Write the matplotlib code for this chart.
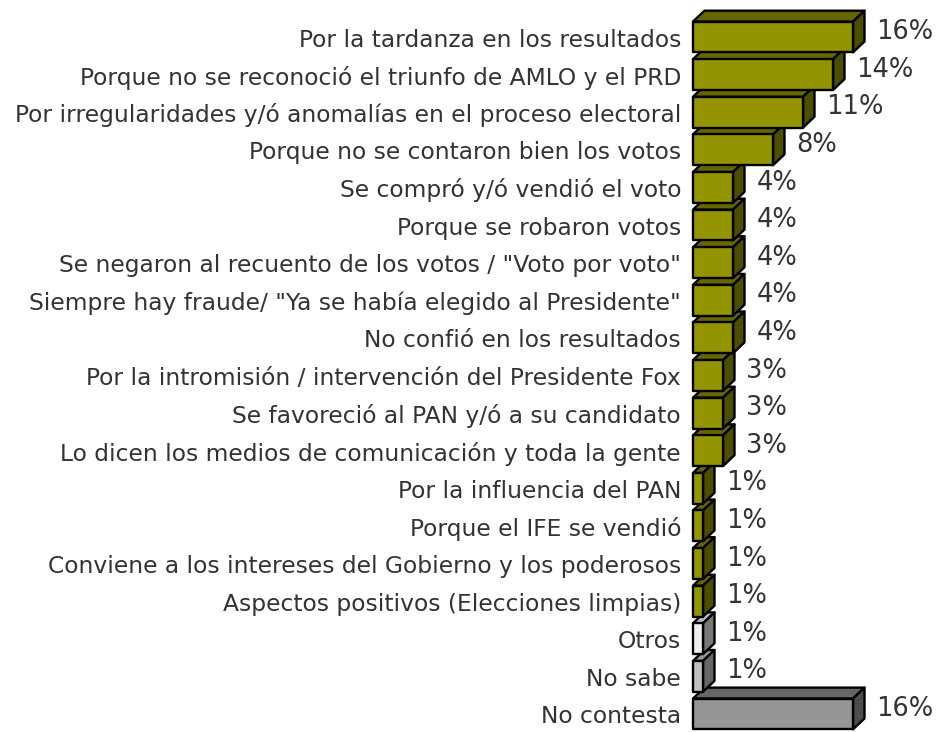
import matplotlib
matplotlib.use("Agg")
import matplotlib.pyplot as plt
from matplotlib.patches import Polygon

categories = [
    "Por la tardanza en los resultados",
    "Porque no se reconoció el triunfo de AMLO y el PRD",
    "Por irregularidades y/ó anomalías en el proceso electoral",
    "Porque no se contaron bien los votos",
    "Se compró y/ó vendió el voto",
    "Porque se robaron votos",
    "Se negaron al recuento de los votos / \"Voto por voto\"",
    "Siempre hay fraude/ \"Ya se había elegido al Presidente\"",
    "No confió en los resultados",
    "Por la intromisión / intervención del Presidente Fox",
    "Se favoreció al PAN y/ó a su candidato",
    "Lo dicen los medios de comunicación y toda la gente",
    "Por la influencia del PAN",
    "Porque el IFE se vendió",
    "Conviene a los intereses del Gobierno y los poderosos",
    "Aspectos positivos (Elecciones limpias)",
    "Otros",
    "No sabe",
    "No contesta",
]
values = [16, 14, 11, 8, 4, 4, 4, 4, 4, 3, 3, 3, 1, 1, 1, 1, 1, 1, 16]

olive = ("#949400", "#666600", "#4d4d00")
colors = [olive] * 16 + [("#eeeeee", "#bbbbbb", "#777777"),
                         ("#c0c0c0", "#999999", "#666666"),
                         ("#969696", "#666666", "#4d4d4d")]

fig = plt.figure(figsize=(9.49, 7.32), dpi=100)
# axes spans from the bar base (x=693px) to the right edge
ax = fig.add_axes([693 / 949, 0, 1 - 693 / 949, 1])
ax.set_xlim(0, 25.6)
ax.set_ylim(18.48, -0.984)
ax.axis("off")

h = 0.41     # half height of front face (rows)
dx = 1.15    # depth in % units
dy = 0.29    # depth in rows

for i in range(len(values) - 1, -1, -1):
    v = values[i]
    front, top, side = colors[i]
    y0, y1 = i - h, i + h
    kw = dict(edgecolor="black", linewidth=1.7, joinstyle="round", clip_on=False)
    ax.add_patch(Polygon([(0, y0), (dx, y0 - dy), (v + dx, y0 - dy), (v, y0)],
                         facecolor=top, **kw))
    ax.add_patch(Polygon([(v, y0), (v + dx, y0 - dy), (v + dx, y1 - dy), (v, y1)],
                         facecolor=side, **kw))
    ax.add_patch(Polygon([(0, y0), (v, y0), (v, y1), (0, y1)],
                         facecolor=front, **kw))
    ax.text(v + dx + 1.2, i - 0.13, f"{v}%", ha="left", va="center",
            fontsize=18.5, color="#333333", clip_on=False)
    ax.text(-1.2, i + 0.08, categories[i], ha="right", va="center",
            fontsize=16.8, color="#333333", clip_on=False)

fig.savefig("out.png", dpi=100)
